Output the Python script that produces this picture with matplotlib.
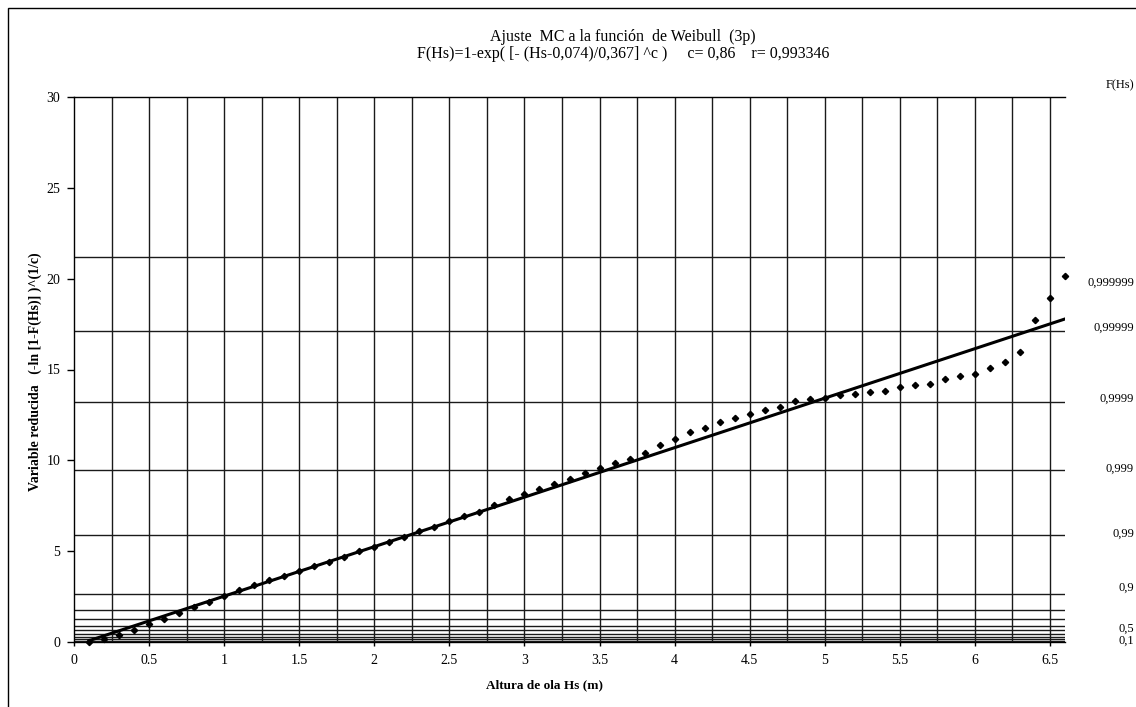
import numpy as np
import matplotlib.pyplot as plt
from matplotlib.patches import Rectangle

plt.rcParams['font.family'] = ['Liberation Serif', 'DejaVu Serif']

# Observed wave heights (m) and their reduced variable
hs = [0.1, 0.2, 0.3, 0.4, 0.5, 0.6, 0.7, 0.8, 0.9, 1.0,
      1.1, 1.2, 1.3, 1.4, 1.5, 1.6, 1.7, 1.8, 1.9, 2.0,
      2.1, 2.2, 2.3, 2.4, 2.5, 2.6, 2.7, 2.8, 2.9, 3.0,
      3.1, 3.2, 3.3, 3.4, 3.5, 3.6, 3.7, 3.8, 3.9, 4.0,
      4.1, 4.2, 4.3, 4.4, 4.5, 4.6, 4.7, 4.8, 4.9, 5.0,
      5.1, 5.2, 5.3, 5.4, 5.5, 5.6, 5.7, 5.8, 5.9, 6.0,
      6.1, 6.2, 6.3, 6.4, 6.5, 6.6]
reduced = [0.02, 0.15, 0.37, 0.64, 0.99, 1.25, 1.61, 1.94, 2.22, 2.53,
           2.86, 3.15, 3.39, 3.63, 3.91, 4.20, 4.42, 4.70, 4.99, 5.25,
           5.50, 5.76, 6.09, 6.31, 6.64, 6.91, 7.17, 7.52, 7.86, 8.15,
           8.42, 8.70, 9.00, 9.28, 9.56, 9.84, 10.06, 10.41, 10.86, 11.19,
           11.54, 11.80, 12.09, 12.31, 12.57, 12.77, 12.95, 13.26, 13.39, 13.43,
           13.58, 13.63, 13.76, 13.83, 14.02, 14.13, 14.18, 14.49, 14.62, 14.73,
           15.08, 15.40, 15.96, 17.72, 18.93, 20.14]

# Weibull (3p) fit parameters
loc = 0.074
scale = 0.367
c = 0.86

# Probability grid levels and the labels shown on the right
prob_levels = [0.1, 0.2, 0.3, 0.4, 0.5, 0.6, 0.7, 0.8, 0.9,
               0.99, 0.999, 0.9999, 0.99999, 0.999999]
prob_labels = ['0,1', '0,5', '0,9', '0,99', '0,999', '0,9999', '0,99999', '0,999999']
prob_label_y = [0.05, 0.75, 2.97, 5.95, 9.52, 13.38, 17.3, 19.76]

fig = plt.figure(figsize=(11.36, 7.07), dpi=100)
ax = fig.add_axes([74 / 1136, 1 - 642 / 707, (1065 - 74) / 1136, (642 - 97) / 707])

# outer frame of the chart area
fig.add_artist(Rectangle((8 / 1136, -0.1), 1.2, 1 - 8 / 707 + 0.1,
                         transform=fig.transFigure, fill=False, lw=1.0, color='black'))

ax.set_xlim(0, 6.6)
ax.set_ylim(0, 30)

# vertical grid every 0.25 m
for xv in np.arange(0.25, 6.6, 0.25):
    ax.axvline(xv, color='#1a1a1a', lw=1.0, zorder=1)

# horizontal grid at probability levels of the reduced variable
for p in prob_levels:
    yv = (-np.log(1 - p)) ** (1 / c)
    ax.axhline(yv, color='#1a1a1a', lw=1.0, zorder=1)

# fitted line
hs_arr = np.array(hs)
ax.plot(hs_arr, (hs_arr - loc) / scale, color='black', lw=2.2, zorder=3)

# observed points
ax.plot(hs, reduced, linestyle='none', marker='D', markersize=3.2,
        color='black', zorder=4, clip_on=False)

ax.spines['right'].set_visible(False)
for s in ['left', 'top', 'bottom']:
    ax.spines[s].set_linewidth(1.0)
    ax.spines[s].set_color('black')

ax.set_xticks(np.arange(0, 6.51, 0.5))
ax.set_xticklabels(['0', '0.5', '1', '1.5', '2', '2.5', '3', '3.5', '4', '4.5',
                    '5', '5.5', '6', '6.5'])
ax.set_yticks(np.arange(0, 31, 5))
ax.tick_params(axis='both', direction='out', length=5, width=1, labelsize=10,
               colors='black')
ax.tick_params(axis='x', length=3, pad=6)
ax.tick_params(axis='y', pad=5)

fig.text(623 / 1136, 1 - 37 / 707, 'Ajuste  MC a la función  de Weibull  (3p)',
         ha='center', va='center', fontsize=11.5)
fig.text(623 / 1136, 1 - 54 / 707,
         'F(Hs)=1-exp( [- (Hs-0,074)/0,367] ^c )     c= 0,86    r= 0,993346',
         ha='center', va='center', fontsize=11.5)

fig.text(544 / 1136, 1 - 685 / 707, 'Altura de ola Hs (m)', ha='center', va='center',
         fontsize=9.5, fontweight='bold')
fig.text(35 / 1136, 1 - 372 / 707, 'Variable reducida   (-ln [1-F(Hs)] )^(1/c)',
         ha='center', va='center', rotation=90, fontsize=10, fontweight='bold')

# right-hand probability scale
fig.text(1134 / 1136, 1 - 85 / 707, 'F(Hs)', ha='right', va='center', fontsize=9)
for lab, yv in zip(prob_labels, prob_label_y):
    ax.text(1.0 + 69 / 991, yv, lab, transform=ax.get_yaxis_transform(),
            ha='right', va='center', fontsize=9, clip_on=False)

fig.savefig('out.png', dpi=100)
